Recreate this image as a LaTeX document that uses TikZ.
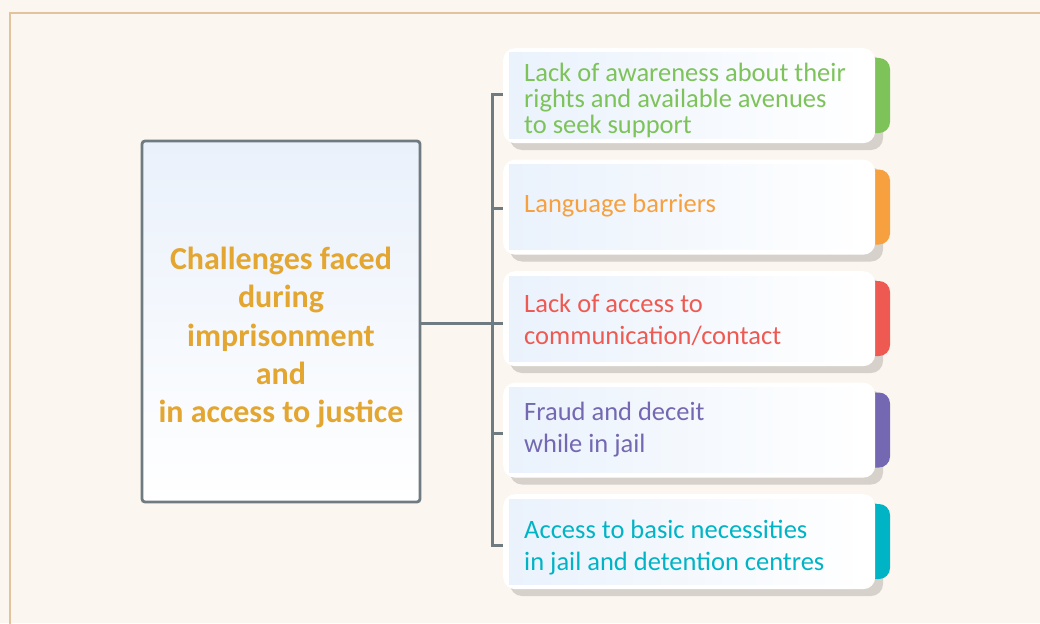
\documentclass[tikz,border=0pt]{standalone}
\usepackage{fontspec}
\setmainfont{Carlito}
\definecolor{bg}{HTML}{FBF7F0}
\definecolor{framec}{HTML}{E2C39E}
\definecolor{linec}{HTML}{6F7B80}
\definecolor{boxtop}{HTML}{EAF1FB}
\definecolor{cardblue}{HTML}{EAF2FC}
\definecolor{shadowc}{HTML}{D6D2CB}
\definecolor{gold}{HTML}{E3A630}
\definecolor{cgreen}{HTML}{7DC35A}
\definecolor{corange}{HTML}{F7A03F}
\definecolor{cred}{HTML}{EE5A52}
\definecolor{cpurple}{HTML}{7468B2}
\definecolor{cteal}{HTML}{00B4C6}
\tikzset{
  card/.style={fill=white, rounded corners=12, minimum width=372, minimum height=95, inner sep=0},
  cardtext/.style={align=left, inner sep=0},
  conn/.style={draw=linec, line width=3},
  mainbox/.style={draw=linec, line width=2.8, rounded corners=3, minimum width=278, minimum height=361, inner sep=0, top color=boxtop, bottom color=white},
}
\newcommand\mycard[6]{%
  \fill[shadowc, rounded corners=12] (510,{#2+8}) rectangle (883,{#2+102});
  \fill[#3, rounded corners=11] (850,{#2+10}) rectangle (890,{#2+85});
  \node[card, anchor=north west] (#1) at (503,#2) {};
  \shade[left color=cardblue, right color=white] (509,{#2+5}) rectangle (866,{#2+90});
  \node[cardtext, text=#3, anchor=west, font=\fontsize{26.5}{#6}\selectfont] (#1t) at (524,{#2+#5}) {#4};
}
\begin{document}
\begin{tikzpicture}[x=1pt,y=-1pt]
\useasboundingbox (0,0) rectangle (1040,623);
\clip (0,0) rectangle (1040,623);
\fill[bg] (0,0) rectangle (1040,623);
\draw[framec, line width=2] (10,640) -- (10,13) -- (1060,13);

\node[mainbox] (center) at (281,321.5) {};
\node[align=center, text=gold, inner sep=0, font=\fontsize{32}{38.3}\selectfont\bfseries] (centert) at (281,337.5)
  {Challenges faced\\during\\imprisonment\\and\\in access to justice};

\mycard{c1}{48}{cgreen}{Lack of awareness about their\\rights and available avenues\\to seek support}{52}{26}
\mycard{c2}{159.5}{corange}{Language barriers}{46}{26}
\mycard{c3}{271}{cred}{Lack of access to\\communication/contact}{49}{31.5}
\mycard{c4}{382.5}{cpurple}{Fraud and deceit\\while in jail}{47.5}{32}
\mycard{c5}{494}{cteal}{Access to basic necessities\\in jail and detention centres}{53.5}{32}

\coordinate (t1) at (492,95);
\coordinate (t2) at (492,208);
\coordinate (t3) at (492,323);
\coordinate (t4) at (492,433);
\coordinate (t5) at (492,545);
\draw[conn] (center.east |- t3) -- (t3);
\draw[conn] (c1.west |- t1) -- (t1) -- (t5) -- (c5.west |- t5);
\draw[conn] (t2) -- (c2.west |- t2);
\draw[conn] (t3) -- (c3.west |- t3);
\draw[conn] (t4) -- (c4.west |- t4);
\end{tikzpicture}
\end{document}
